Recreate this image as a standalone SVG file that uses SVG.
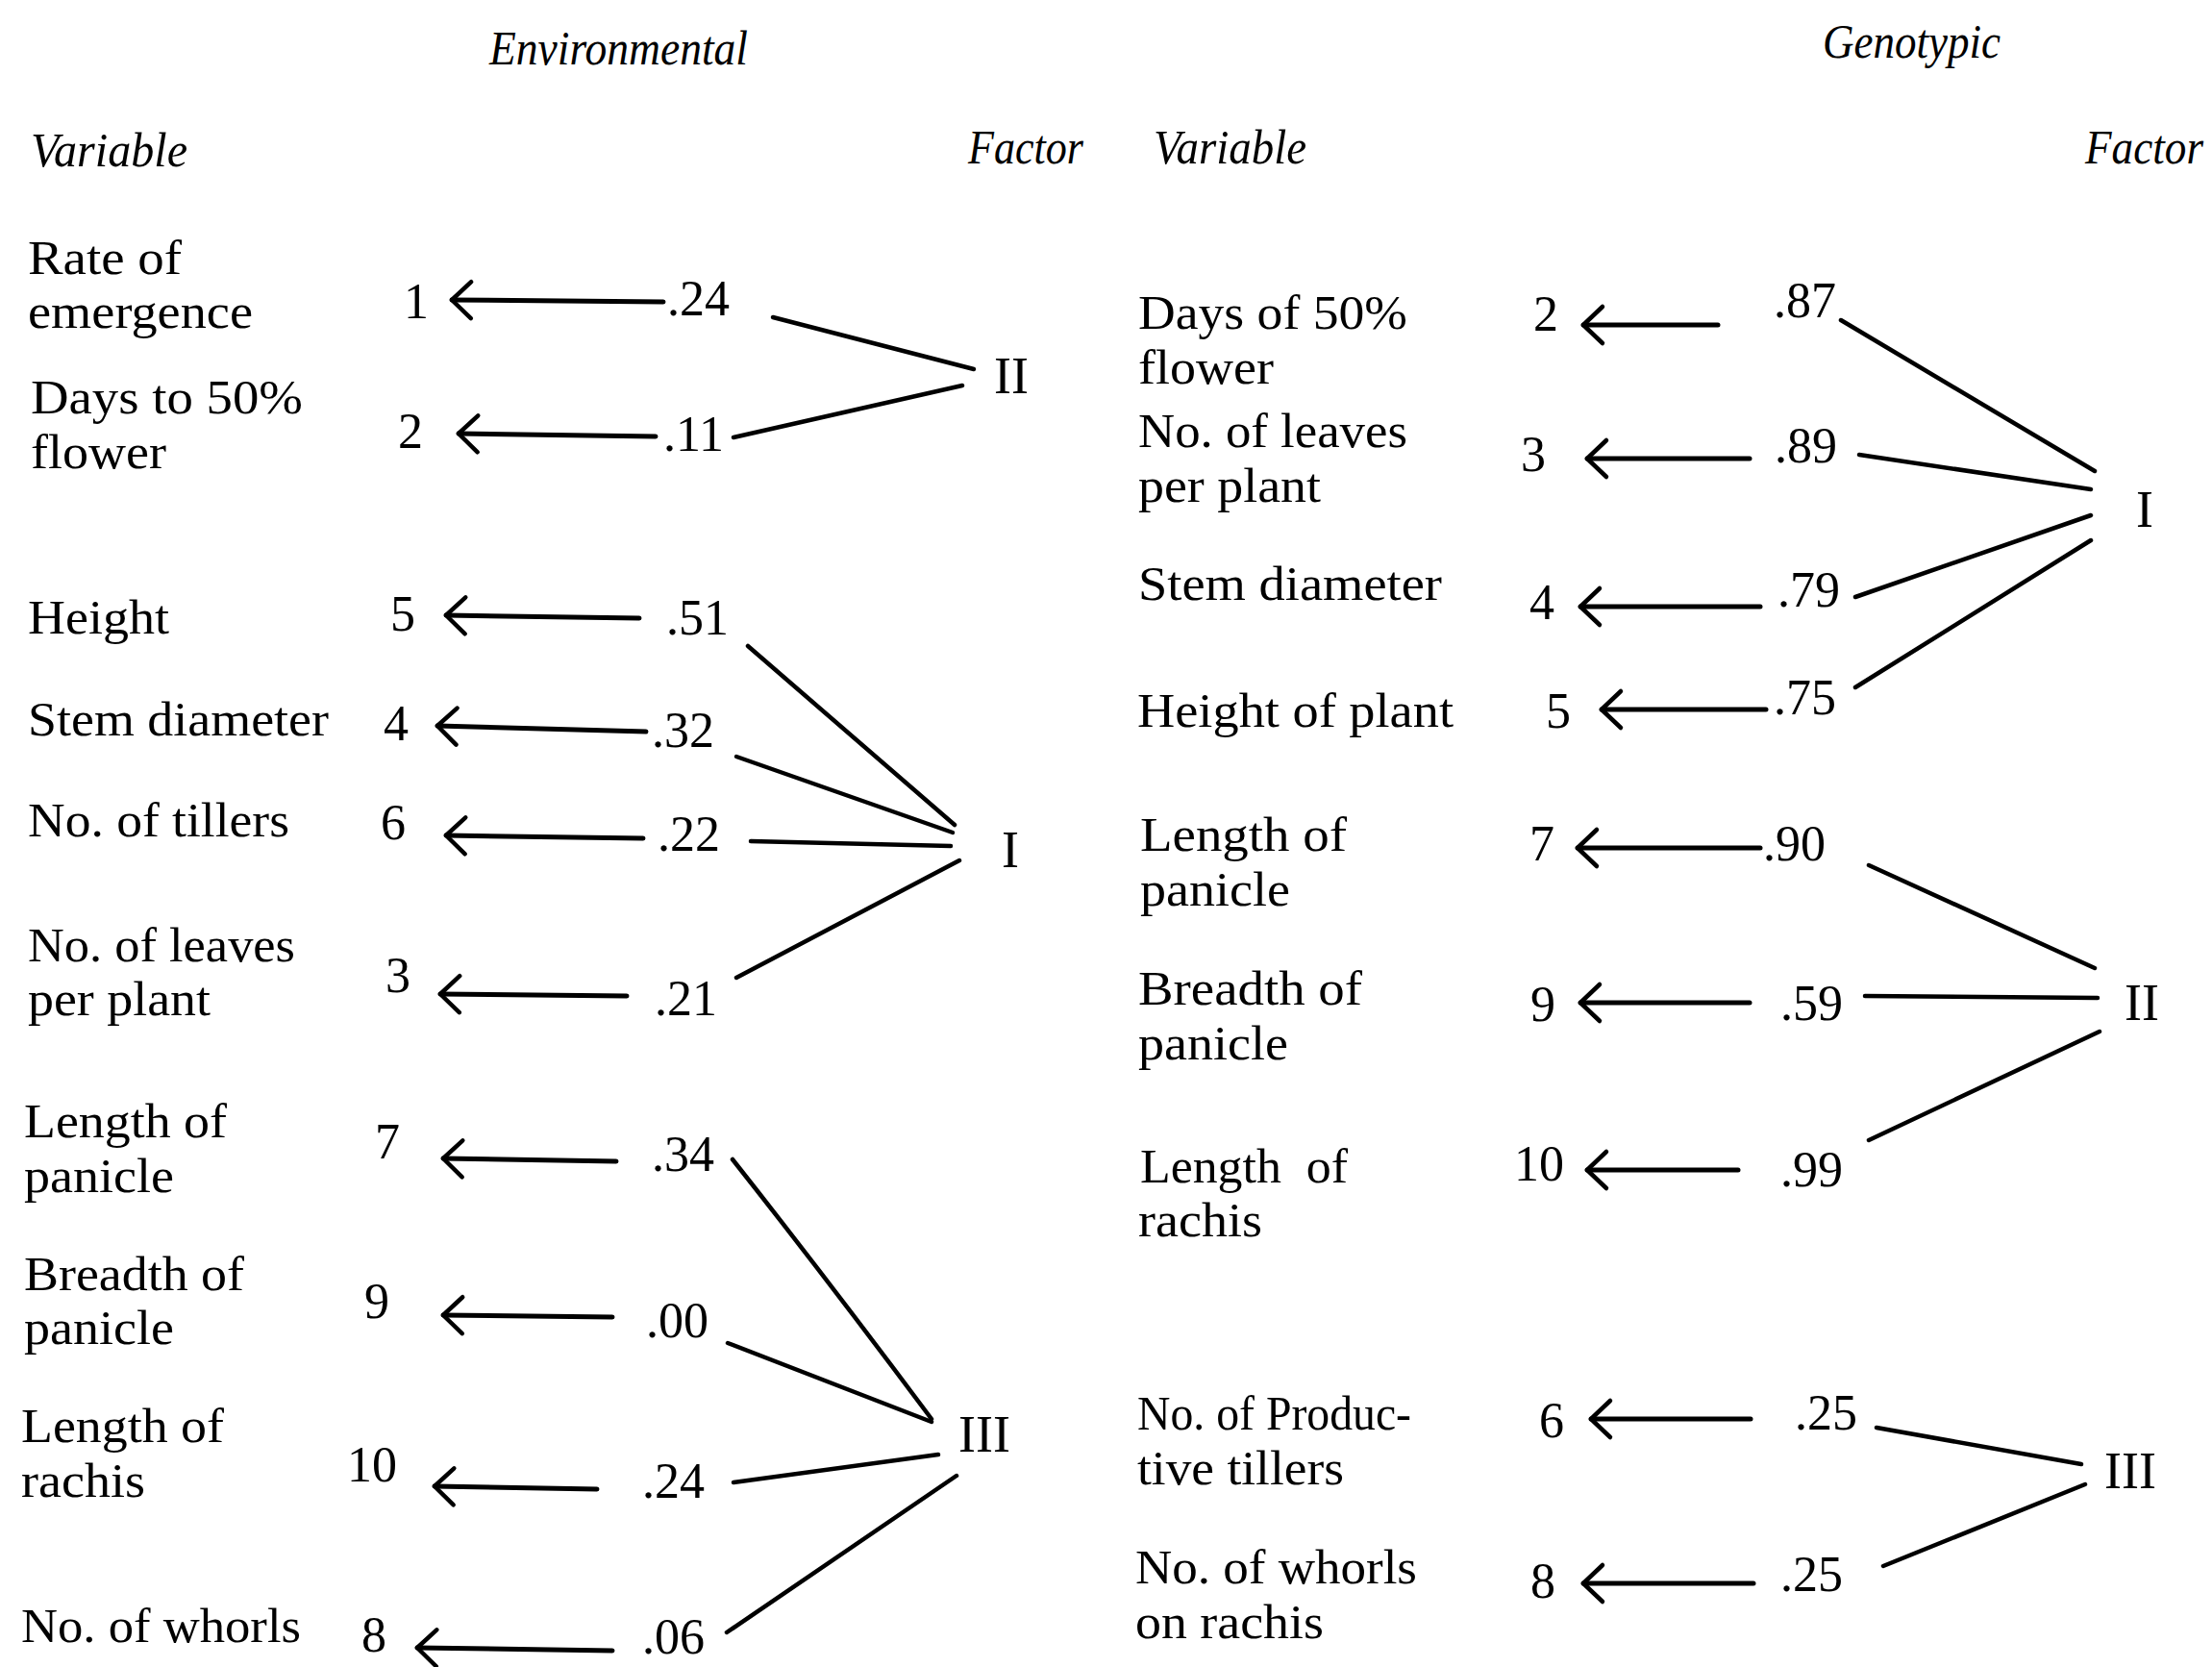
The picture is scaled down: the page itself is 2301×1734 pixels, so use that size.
<svg xmlns="http://www.w3.org/2000/svg" width="2301" height="1734" viewBox="0 0 2301 1734">
<style>
text{font-family:"Liberation Serif","DejaVu Serif",serif;fill:#000}
.t{font-size:50px}
.n{font-size:52px}
.h{font-size:50px;font-style:italic}
.f{font-size:54px}
.ar{fill:none;stroke:#000;stroke-width:5;stroke-linecap:round;marker-end:url(#ah)}
.ln{fill:none;stroke:#000;stroke-width:4.5;stroke-linecap:round}
</style>
<defs>
<marker id="ah" markerUnits="userSpaceOnUse" markerWidth="40" markerHeight="50" viewBox="-30 -25 40 50" refX="0" refY="0" orient="auto" overflow="visible">
<path d="M-20,-19 L0,0 L-20,19" fill="none" stroke="#000" stroke-width="4.5" stroke-linecap="round" stroke-linejoin="round"/>
</marker>
</defs>
<rect width="2301" height="1734" fill="#fff"/>

<g id="headers">
<text class="h" x="509" y="67" textLength="269" lengthAdjust="spacingAndGlyphs">Environmental</text>
<text class="h" x="32" y="173" textLength="163" lengthAdjust="spacingAndGlyphs">Variable</text>
<text class="h" x="1007" y="170" textLength="120" lengthAdjust="spacingAndGlyphs">Factor</text>
<text class="h" x="1896" y="60" textLength="185" lengthAdjust="spacingAndGlyphs">Genotypic</text>
<text class="h" x="1200" y="170" textLength="159" lengthAdjust="spacingAndGlyphs">Variable</text>
<text class="h" x="2169" y="170" textLength="123" lengthAdjust="spacingAndGlyphs">Factor</text>
</g>

<!-- Environmental panel: variables -->
<g id="env-var1"><text class="t" x="29" y="285" textLength="160" lengthAdjust="spacingAndGlyphs">Rate of</text><text class="t" x="29" y="341" textLength="234" lengthAdjust="spacingAndGlyphs">emergence</text><text class="n" x="420" y="331">1</text></g>
<g id="env-var2"><text class="t" x="32" y="430" textLength="283" lengthAdjust="spacingAndGlyphs">Days to 50%</text><text class="t" x="32" y="487" textLength="141" lengthAdjust="spacingAndGlyphs">flower</text><text class="n" x="414" y="466">2</text></g>
<g id="env-var5"><text class="t" x="29" y="659" textLength="147" lengthAdjust="spacingAndGlyphs">Height</text><text class="n" x="406" y="656">5</text></g>
<g id="env-var4"><text class="t" x="29" y="765" textLength="313" lengthAdjust="spacingAndGlyphs">Stem diameter</text><text class="n" x="399" y="770">4</text></g>
<g id="env-var6"><text class="t" x="29" y="870" textLength="272" lengthAdjust="spacingAndGlyphs">No. of tillers</text><text class="n" x="396" y="873">6</text></g>
<g id="env-var3"><text class="t" x="29" y="1000" textLength="278" lengthAdjust="spacingAndGlyphs">No. of leaves</text><text class="t" x="29" y="1056" textLength="190" lengthAdjust="spacingAndGlyphs">per plant</text><text class="n" x="401" y="1032">3</text></g>
<g id="env-var7"><text class="t" x="25" y="1183" textLength="211" lengthAdjust="spacingAndGlyphs">Length of</text><text class="t" x="25" y="1240" textLength="156" lengthAdjust="spacingAndGlyphs">panicle</text><text class="n" x="390" y="1205">7</text></g>
<g id="env-var9"><text class="t" x="25" y="1342" textLength="229" lengthAdjust="spacingAndGlyphs">Breadth of</text><text class="t" x="25" y="1398" textLength="156" lengthAdjust="spacingAndGlyphs">panicle</text><text class="n" x="379" y="1371">9</text></g>
<g id="env-var10"><text class="t" x="22" y="1500" textLength="211" lengthAdjust="spacingAndGlyphs">Length of</text><text class="t" x="22" y="1557" textLength="129" lengthAdjust="spacingAndGlyphs">rachis</text><text class="n" x="361" y="1541">10</text></g>
<g id="env-var8"><text class="t" x="22" y="1708" textLength="291" lengthAdjust="spacingAndGlyphs">No. of whorls</text><text class="n" x="376" y="1718">8</text></g>

<!-- Environmental panel: loadings -->
<g id="env-load1"><text class="n" x="694" y="328">.24</text></g>
<g id="env-load2"><text class="n" x="690" y="469">.11</text></g>
<g id="env-load5"><text class="n" x="693" y="660">.51</text></g>
<g id="env-load4"><text class="n" x="678" y="777">.32</text></g>
<g id="env-load6"><text class="n" x="684" y="885">.22</text></g>
<g id="env-load3"><text class="n" x="681" y="1056">.21</text></g>
<g id="env-load7"><text class="n" x="678" y="1218">.34</text></g>
<g id="env-load9"><text class="n" x="672" y="1391">.00</text></g>
<g id="env-load10"><text class="n" x="668" y="1558">.24</text></g>
<g id="env-load8"><text class="n" x="668" y="1720">.06</text></g>

<!-- Environmental panel: factors -->
<g id="env-factor-II"><text class="f" x="1034" y="409">II</text></g>
<g id="env-factor-I"><text class="f" x="1042" y="902">I</text></g>
<g id="env-factor-III"><text class="f" x="997" y="1510">III</text></g>

<!-- Genotypic panel: variables -->
<g id="gen-var2"><text class="t" x="1184" y="342" textLength="280" lengthAdjust="spacingAndGlyphs">Days of 50%</text><text class="t" x="1184" y="399" textLength="141" lengthAdjust="spacingAndGlyphs">flower</text><text class="n" x="1595" y="344">2</text></g>
<g id="gen-var3"><text class="t" x="1184" y="465" textLength="280" lengthAdjust="spacingAndGlyphs">No. of leaves</text><text class="t" x="1184" y="522" textLength="190" lengthAdjust="spacingAndGlyphs">per plant</text><text class="n" x="1582" y="490">3</text></g>
<g id="gen-var4"><text class="t" x="1184" y="624" textLength="316" lengthAdjust="spacingAndGlyphs">Stem diameter</text><text class="n" x="1591" y="644">4</text></g>
<g id="gen-var5"><text class="t" x="1183" y="756" textLength="329" lengthAdjust="spacingAndGlyphs">Height of plant</text><text class="n" x="1608" y="757">5</text></g>
<g id="gen-var7"><text class="t" x="1186" y="885" textLength="215" lengthAdjust="spacingAndGlyphs">Length of</text><text class="t" x="1186" y="942" textLength="156" lengthAdjust="spacingAndGlyphs">panicle</text><text class="n" x="1591" y="895">7</text></g>
<g id="gen-var9"><text class="t" x="1184" y="1045" textLength="233" lengthAdjust="spacingAndGlyphs">Breadth of</text><text class="t" x="1184" y="1102" textLength="156" lengthAdjust="spacingAndGlyphs">panicle</text><text class="n" x="1592" y="1062">9</text></g>
<g id="gen-var10"><text class="t" x="1186" y="1230" textLength="216" lengthAdjust="spacingAndGlyphs" xml:space="preserve">Length  of</text><text class="t" x="1184" y="1286" textLength="129" lengthAdjust="spacingAndGlyphs">rachis</text><text class="n" x="1575" y="1228">10</text></g>
<g id="gen-var6"><text class="t" x="1183" y="1487" textLength="285" lengthAdjust="spacingAndGlyphs">No. of Produc-</text><text class="t" x="1183" y="1544" textLength="215" lengthAdjust="spacingAndGlyphs">tive tillers</text><text class="n" x="1601" y="1495">6</text></g>
<g id="gen-var8"><text class="t" x="1181" y="1647" textLength="293" lengthAdjust="spacingAndGlyphs">No. of whorls</text><text class="t" x="1181" y="1704" textLength="196" lengthAdjust="spacingAndGlyphs">on rachis</text><text class="n" x="1592" y="1662">8</text></g>

<!-- Genotypic panel: loadings -->
<g id="gen-load2"><text class="n" x="1845" y="330">.87</text></g>
<g id="gen-load3"><text class="n" x="1846" y="481">.89</text></g>
<g id="gen-load4"><text class="n" x="1849" y="631">.79</text></g>
<g id="gen-load5"><text class="n" x="1845" y="743">.75</text></g>
<g id="gen-load7"><text class="n" x="1834" y="895">.90</text></g>
<g id="gen-load9"><text class="n" x="1852" y="1061">.59</text></g>
<g id="gen-load10"><text class="n" x="1852" y="1234">.99</text></g>
<g id="gen-load6"><text class="n" x="1867" y="1487">.25</text></g>
<g id="gen-load8"><text class="n" x="1852" y="1655">.25</text></g>

<!-- Genotypic panel: factors -->
<g id="gen-factor-I"><text class="f" x="2222" y="548">I</text></g>
<g id="gen-factor-II"><text class="f" x="2210" y="1061">II</text></g>
<g id="gen-factor-III"><text class="f" x="2189" y="1548">III</text></g>

<g id="connectors">
<!-- environmental arrows -->
<path class="ar" d="M690,314 L470,312"/>
<path class="ar" d="M682,454 L477,451"/>
<path class="ar" d="M665,643 L464,640"/>
<path class="ar" d="M672,761 L455,755"/>
<path class="ar" d="M669,872 L464,869"/>
<path class="ar" d="M652,1036 L458,1034"/>
<path class="ar" d="M641,1208 L461,1205"/>
<path class="ar" d="M637,1370 L461,1368"/>
<path class="ar" d="M621,1549 L452,1546"/>
<path class="ar" d="M637,1717 L434,1714"/>
<!-- environmental factor lines -->
<path class="ln" d="M804,330 L1013,384"/>
<path class="ln" d="M763,455 L1001,401"/>
<path class="ln" d="M778,672 L993,858"/>
<path class="ln" d="M766,787 L991,866"/>
<path class="ln" d="M781,875 L989,880"/>
<path class="ln" d="M766,1017 L998,895"/>
<path class="ln" d="M762,1206 Q860,1330 969,1476"/>
<path class="ln" d="M757,1397 L969,1479"/>
<path class="ln" d="M763,1542 L976,1513"/>
<path class="ln" d="M756,1698 L995,1535"/>
<!-- genotypic arrows -->
<path class="ar" d="M1787,338 L1647,338"/>
<path class="ar" d="M1820,477 L1651,477"/>
<path class="ar" d="M1831,631 L1644,631"/>
<path class="ar" d="M1837,738 L1666,738"/>
<path class="ar" d="M1831,882 L1641,882"/>
<path class="ar" d="M1820,1043 L1644,1043"/>
<path class="ar" d="M1808,1217 L1651,1217"/>
<path class="ar" d="M1821,1476 L1655,1476"/>
<path class="ar" d="M1824,1647 L1647,1647"/>
<!-- genotypic factor lines -->
<path class="ln" d="M1915,333 L2179,490"/>
<path class="ln" d="M1934,473 L2175,509"/>
<path class="ln" d="M1930,621 L2175,536"/>
<path class="ln" d="M1930,715 L2175,562"/>
<path class="ln" d="M1944,900 L2179,1007"/>
<path class="ln" d="M1940,1036 L2182,1038"/>
<path class="ln" d="M1944,1186 L2184,1073"/>
<path class="ln" d="M1952,1485 L2165,1523"/>
<path class="ln" d="M1959,1629 L2169,1544"/>
</g>
</svg>
